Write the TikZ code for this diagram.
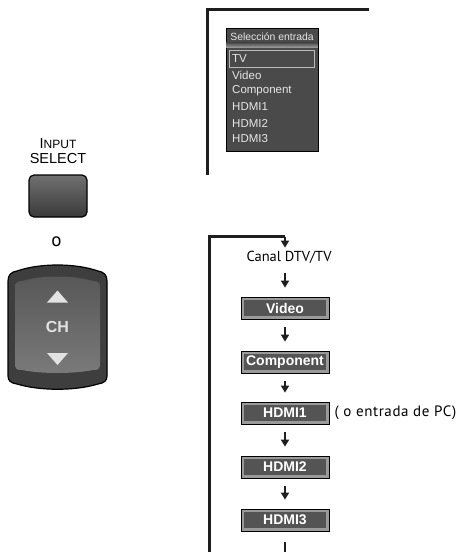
\documentclass[tikz,border=0pt]{standalone}
\usepackage{fontspec}
\setmainfont{Liberation Sans}
\newfontfamily\myr{PT Sans}
\usetikzlibrary{arrows.meta}
\definecolor{linec}{HTML}{1E1E1E}
\definecolor{menubg}{HTML}{4A4A4A}
\definecolor{menutx}{HTML}{E6E6E6}
\definecolor{boxedge}{HTML}{9A9A9A}
\definecolor{boxfill}{HTML}{545454}
\definecolor{rockout}{HTML}{3E3E3E}
\definecolor{rocktop}{HTML}{575757}
\definecolor{rockbot}{HTML}{7A7A7A}
\definecolor{btntop}{HTML}{707070}
\definecolor{btnbot}{HTML}{3A3A3A}
\definecolor{glyph}{HTML}{E2E2E2}
\begin{document}
\begin{tikzpicture}[x=1pt,y=-1pt,
  bracket/.style={line width=3pt,draw=linec,line join=miter},
  flow/.style={line width=2.3pt,draw=linec,-{Triangle[width=8pt,length=7pt]}},
  srcbox/.style={draw=black,line width=0.8pt,fill=boxedge,minimum width=88pt,
    minimum height=22pt,inner sep=0pt,text=white,
    font=\bfseries\fontsize{14}{14}\selectfont,
    path picture={\fill[boxfill] ([shift={(3pt,-2.6pt)}]path picture bounding box.north west)
      rectangle ([shift={(-3pt,2.6pt)}]path picture bounding box.south east);}},
  item/.style={anchor=west,inner sep=0pt,text=menutx,font=\fontsize{11.5}{11.5}\selectfont},
  myrtext/.style={inner sep=0pt,font=\myr\fontsize{14.5}{14.5}\selectfont},
]
\clip (0,0) rectangle (464,552);
\fill[white] (0,0) rectangle (464,552);

% ---------- top bracket and menu ----------
\coordinate (t1) at (207,175);
\coordinate (t2) at (207,9.5);
\coordinate (t3) at (369,9.5);
\draw[bracket] (t1) -- (t2) -- (t3);

\node[draw=black,line width=0.8pt,fill=menubg,minimum width=92pt,minimum height=123pt,inner sep=0pt] (menu) at (272,89.5) {};
\shade[top color=menubg,bottom color=gray!75] ([shift={(0.5pt,-15pt)}]menu.north west) rectangle ([shift={(-0.5pt,-20pt)}]menu.north east);
\node[inner sep=0pt,text=menutx,font=\fontsize{10.4}{11}\selectfont] (mtitle) at (272,37) {Selección entrada};
\draw[draw=gray!55,line width=1.3pt] (229.5,50.5) rectangle (314.5,67.5);
\node[item] (iTV) at (232,59) {TV};
\node[item] (iVideo) at (232,75) {Video};
\node[item] (iComp) at (232,91) {Component};
\node[item] (iH1) at (232,107) {HDMI1};
\node[item] (iH2) at (232,123) {HDMI2};
\node[item] (iH3) at (232,139) {HDMI3};

% ---------- left: INPUT SELECT button ----------
\node[inner sep=0pt] (inp) at (58,144) {{\fontsize{14.5}{14.5}\selectfont I}{\fontsize{12}{12}\selectfont NPUT}};
\node[inner sep=0pt,font=\fontsize{14.5}{14.5}\selectfont] (sel) at (58,159) {SELECT};
\node[draw=black,line width=1.2pt,rounded corners=5pt,top color=btntop,bottom color=btnbot,
  minimum width=58pt,minimum height=42pt] (btn) at (58,196) {};
\node[inner sep=0pt,font=\myr\fontsize{19}{19}\selectfont] (or) at (56.5,242) {o};

% ---------- CH rocker ----------
\filldraw[fill=rockout,draw=black,line width=1.2pt]
  (8,376) -- (8,281) .. controls (8,275) and (11,272) .. (17,271)
  .. controls (40,263) and (75,263) .. (98,271)
  .. controls (104,272) and (107,275) .. (107,281) -- (107,376)
  .. controls (107,381) and (104,383) .. (98,384)
  .. controls (75,391) and (40,391) .. (17,384)
  .. controls (11,383) and (8,381) .. (8,376) -- cycle;
\shade[top color=rocktop,bottom color=rockbot]
  (15,366) -- (15,287) .. controls (15,283) and (17,281) .. (22,281)
  .. controls (42,275) and (73,275) .. (93,281)
  .. controls (98,281) and (100,283) .. (100,287) -- (100,366)
  .. controls (100,369) and (98,370) .. (93,370)
  .. controls (73,374) and (42,374) .. (22,370)
  .. controls (17,370) and (15,369) .. (15,366) -- cycle;
\fill[glyph] (47,302.5) -- (57.5,290.5) -- (68,302.5) -- cycle;
\fill[glyph] (47,353) -- (57.5,365) -- (68,353) -- cycle;
\node[inner sep=0pt,text=glyph,font=\bfseries\fontsize{16}{16}\selectfont] (ch) at (57.5,327) {CH};

% ---------- bottom flow ----------
\coordinate (bb) at (209.5,560);
\coordinate (bl) at (209.5,236.5);
\coordinate (tr) at (285,236.5);
\draw[bracket] (bb) -- (bl) -- (tr);

\node[myrtext] (canal) at (289,257) {Canal DTV/TV};
\node[srcbox] (video) at (285,308) {Video};
\node[srcbox] (comp) at (285,362) {Component};
\node[srcbox] (h1) at (285,413) {HDMI1};
\node[srcbox] (h2) at (285,467) {HDMI2};
\node[srcbox] (h3) at (285,520) {HDMI3};
\node[myrtext,anchor=west,font=\myr\fontsize{15}{15}\selectfont\addfontfeature{LetterSpace=4}] (pc) at ([xshift=5pt]h1.east) {( o entrada de PC)};
\coordinate (fend) at (285,570);

\draw[flow,shorten >=3pt] (tr) -- (tr |- canal.north);
\draw[flow,shorten <=10pt,shorten >=9pt] (video.north |- canal.south) -- (video.north);
\draw[flow,shorten <=8pt,shorten >=9pt] (video.south) -- (comp.north);
\draw[flow,shorten <=8pt,shorten >=9pt] (comp.south) -- (h1.north);
\draw[flow,shorten <=8pt,shorten >=9pt] (h1.south) -- (h2.north);
\draw[flow,shorten <=8pt,shorten >=9pt] (h2.south) -- (h3.north);
\draw[flow,shorten <=11pt] (h3.south) -- (fend);
\end{tikzpicture}
\end{document}
